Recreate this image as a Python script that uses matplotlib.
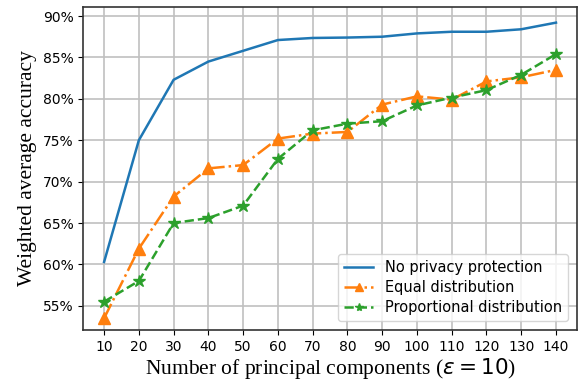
import matplotlib
matplotlib.use('Agg')
import matplotlib.pyplot as plt
from matplotlib.ticker import PercentFormatter

# accuracy (%) vs. number of principal components, epsilon = 10
components = [10, 20, 30, 40, 50, 60, 70, 80, 90, 100, 110, 120, 130, 140]
no_privacy = [60.3, 75.0, 82.3, 84.5, 85.8, 87.1, 87.35, 87.4, 87.5, 87.9, 88.1, 88.1, 88.4, 89.2]
equal_dist = [53.5, 61.9, 68.2, 71.6, 72.0, 75.2, 75.8, 76.0, 79.3, 80.3, 79.9, 82.1, 82.6, 83.5]
prop_dist = [55.5, 58.0, 65.0, 65.6, 67.1, 72.75, 76.2, 77.0, 77.3, 79.2, 80.15, 81.05, 82.9, 85.4]

fig, ax = plt.subplots(figsize=(5.78, 3.84), dpi=100)
fig.subplots_adjust(left=0.144, right=0.998, top=0.982, bottom=0.141)

ax.plot(components, no_privacy, color='tab:blue', lw=1.8, label='No privacy protection')
ax.plot(components, equal_dist, color='tab:orange', lw=1.8, ls='-.', marker='^', ms=8,
        label='Equal distribution')
ax.plot(components, prop_dist, color='tab:green', lw=1.8, ls='--', marker='*', ms=9,
        label='Proportional distribution')

ax.set_xticks(components)
ax.set_yticks(range(55, 91, 5))
ax.yaxis.set_major_formatter(PercentFormatter(decimals=0))
ax.set_xlim(4, 146)
ax.set_ylim(52.1, 91.1)
ax.tick_params(labelsize=10)
ax.grid(True, color='#c0c0c0', lw=1.2)
for s in ax.spines.values():
    s.set_color('#333333')
    s.set_linewidth(1.2)

ax.set_ylabel('Weighted average accuracy', family='Liberation Serif', fontsize=15.5)
ax.set_xlabel(r'Number of principal components ($\varepsilon = 10$)', family='Liberation Serif',
              fontsize=15.5, labelpad=2)

ax.legend(loc='lower right', fontsize=10.5, markerscale=0.65, labelspacing=0.35,
          borderaxespad=0.6)

plt.savefig('out.png', dpi=100)
